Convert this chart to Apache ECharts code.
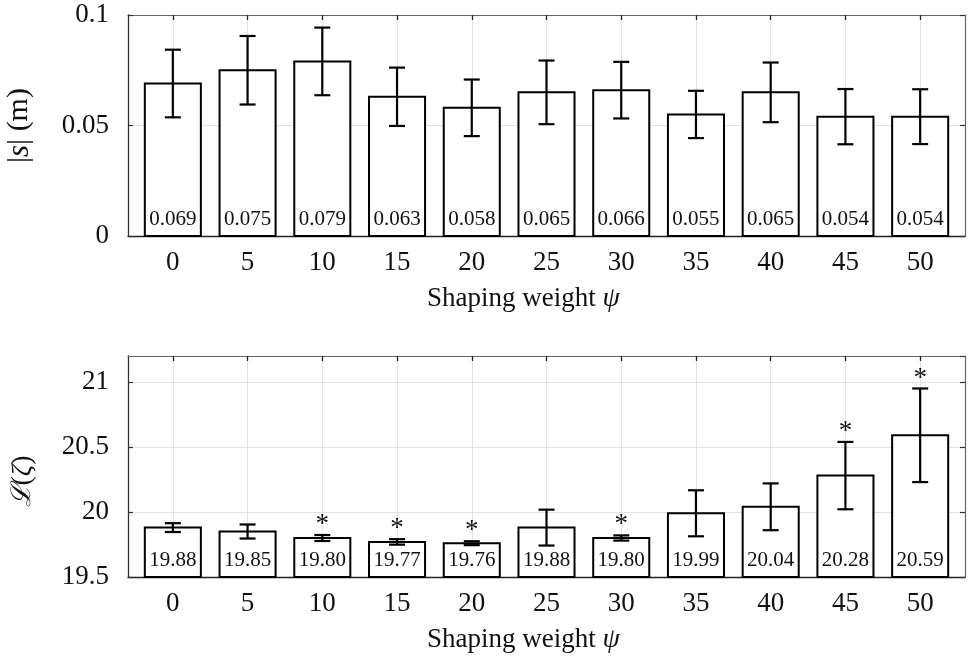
<!DOCTYPE html>
<html>
<head>
<meta charset="utf-8">
<script src="https://cdn.jsdelivr.net/npm/echarts@6/dist/echarts.min.js"></script>
<style>
  html, body { margin: 0; padding: 0; background: #fff; }
  #chart { width: 968px; height: 663px; }
</style>
</head>
<body>
<div id="chart"></div>
<script>
// Shaping weights on the x axis
const weights = [0, 5, 10, 15, 20, 25, 30, 35, 40, 45, 50];

// Distance |s| (m): mean and half-width of the error bar
const distMean = [0.069, 0.075, 0.079, 0.063, 0.058, 0.065, 0.066, 0.055, 0.065, 0.054, 0.054];
const distErr  = [0.0153, 0.0155, 0.0153, 0.0132, 0.0128, 0.0144, 0.0128, 0.0107, 0.0135, 0.0125, 0.0124];
const distSig  = [0, 0, 0, 0, 0, 0, 0, 0, 0, 0, 0];

// Loss L(zeta): mean, half-width of the error bar, significance marker
const lossMean = [19.88, 19.85, 19.80, 19.77, 19.76, 19.88, 19.80, 19.99, 20.04, 20.28, 20.59];
const lossErr  = [0.034, 0.054, 0.023, 0.021, 0.015, 0.138, 0.020, 0.177, 0.180, 0.259, 0.360];
const lossSig  = [0, 0, 1, 1, 1, 0, 1, 0, 0, 1, 1];

// Tick positions on the weight axis
const xTicks = weights.slice();

const SERIF = '"Liberation Serif", "DejaVu Serif", serif';
const FRAME = '#666';
const GRIDLINE = '#e2e2e2';
const INK = '#111';

// Outlined bar with its value written at the foot, an error bar and an optional asterisk
function barRenderer(base, digits) {
  return function (params, api) {
    const x = api.value(0), v = api.value(1), e = api.value(2), sig = api.value(3);
    const pBase = api.coord([x, base]);
    const pTop = api.coord([x, v]);
    const w = api.size([5, 0])[0] * 0.75;
    const hi = api.coord([x, v + e]);
    const lo = api.coord([x, v - e]);
    const cap = 8;
    const stroke = { stroke: '#000', lineWidth: 2.2 };
    const children = [
      {
        type: 'rect',
        shape: { x: pTop[0] - w / 2, y: pTop[1], width: w, height: pBase[1] - pTop[1] },
        style: { fill: '#fff', stroke: '#000', lineWidth: 2 }
      },
      {
        type: 'text',
        style: {
          text: v.toFixed(digits), x: pBase[0], y: pBase[1] - 17,
          align: 'center', verticalAlign: 'middle',
          fill: INK, font: '21px ' + SERIF
        }
      },
      { type: 'line', shape: { x1: hi[0], y1: hi[1], x2: lo[0], y2: lo[1] }, style: stroke },
      { type: 'line', shape: { x1: hi[0] - cap, y1: hi[1], x2: hi[0] + cap, y2: hi[1] }, style: stroke },
      { type: 'line', shape: { x1: lo[0] - cap, y1: lo[1], x2: lo[0] + cap, y2: lo[1] }, style: stroke }
    ];
    if (sig) {
      children.push({
        type: 'text',
        style: {
          text: '*', x: hi[0], y: hi[1] - 10,
          align: 'center', verticalAlign: 'middle',
          fill: INK, font: '27px ' + SERIF
        }
      });
    }
    return { type: 'group', children: children };
  };
}

function xAxes(gridIndex) {
  return [
    {
      gridIndex: gridIndex, type: 'value', position: 'bottom', min: -3, max: 53,
      axisLine: { onZero: false, lineStyle: { color: '#222', width: 1.3 } },
      axisTick: { inside: true, length: 5, customValues: xTicks, lineStyle: { color: '#222', width: 1.3 } },
      axisLabel: { customValues: xTicks, margin: 13, color: INK, fontSize: 27, fontFamily: SERIF },
      splitLine: { show: true, lineStyle: { color: GRIDLINE, width: 1 } },
      name: 'Shaping weight {i|ψ}', nameLocation: 'middle', nameGap: 49,
      nameTextStyle: {
        color: INK, fontSize: 27, fontFamily: SERIF, padding: [0, 46, 0, 0],
        rich: { i: { fontSize: 28, fontFamily: SERIF, fontStyle: 'italic', color: INK } }
      }
    },
    {
      gridIndex: gridIndex, type: 'value', position: 'top', min: -3, max: 53,
      axisLine: { onZero: false, lineStyle: { color: FRAME, width: 1.2 } },
      axisTick: { inside: true, length: 5, customValues: xTicks, lineStyle: { color: '#222', width: 1.3 } },
      axisLabel: { show: false },
      splitLine: { show: false }
    }
  ];
}

function yAxes(gridIndex, min, max, interval, showMax, name, gap, pad, richDef) {
  return [
    {
      gridIndex: gridIndex, type: 'value', position: 'left', min: min, max: max, interval: interval,
      axisLine: { show: true, onZero: false, lineStyle: { color: '#333', width: 1.3 } },
      axisTick: { show: true, inside: true, length: 5, lineStyle: { color: '#333', width: 1.2 } },
      axisLabel: { margin: 19, color: INK, fontSize: 27, fontFamily: SERIF, showMaxLabel: showMax },
      splitLine: { show: true, lineStyle: { color: GRIDLINE, width: 1 } },
      name: name, nameLocation: 'middle', nameGap: gap, nameRotate: 90,
      nameTextStyle: { color: INK, fontSize: 28, fontFamily: SERIF, padding: pad, rich: richDef }
    },
    {
      gridIndex: gridIndex, type: 'value', position: 'right', min: min, max: max, interval: interval,
      axisLine: { show: true, onZero: false, lineStyle: { color: FRAME, width: 1.2 } },
      axisTick: { show: true, inside: true, length: 5, lineStyle: { color: '#333', width: 1.2 } },
      axisLabel: { show: false },
      splitLine: { show: false }
    }
  ];
}

const topData = weights.map((w, i) => [w, distMean[i], distErr[i], distSig[i]]);
const botData = weights.map((w, i) => [w, lossMean[i], lossErr[i], lossSig[i]]);

const chart = echarts.init(document.getElementById('chart'), null, { renderer: 'canvas' });
chart.setOption({
  animation: false,
  backgroundColor: '#fff',
  grid: [
    { left: 128, right: 3, top: 15, height: 221, containLabel: false, outerBoundsMode: 'none' },
    { left: 128, right: 3, top: 356, height: 221, containLabel: false, outerBoundsMode: 'none' }
  ],
  xAxis: [].concat(xAxes(0), xAxes(1)),
  yAxis: [].concat(
    yAxes(0, 0, 0.1, 0.05, true, '{n||}{i|s}{n|| (m)}', 93, [0, 0, 0, 0], {
      n: { fontSize: 30, fontFamily: SERIF, color: INK },
      i: { fontSize: 31, fontFamily: SERIF, fontStyle: 'italic', color: INK }
    }),
    yAxes(1, 19.5, 21.2, 0.5, false, '{l|ℒ}{n|(}{i|ζ}{n|)}', 91, [0, 30, 0, 0], {
      l: { fontSize: 27, fontFamily: '"DejaVu Serif", serif', fontStyle: 'italic', color: INK },
      n: { fontSize: 28, fontFamily: SERIF, color: INK },
      i: { fontSize: 28, fontFamily: SERIF, fontStyle: 'italic', color: INK }
    })
  ),
  series: [
    {
      type: 'custom', xAxisIndex: 0, yAxisIndex: 0,
      renderItem: barRenderer(0, 3), encode: { x: 0, y: 1 }, data: topData, z: 3
    },
    {
      type: 'custom', xAxisIndex: 2, yAxisIndex: 2,
      renderItem: barRenderer(19.5, 2), encode: { x: 0, y: 1 }, data: botData, z: 3
    }
  ]
});
</script>
</body>
</html>
